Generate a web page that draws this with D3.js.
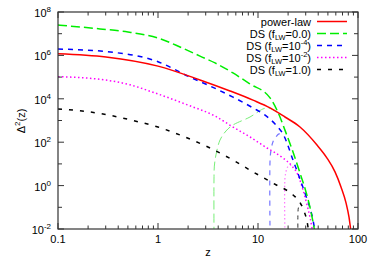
<!DOCTYPE html>
<html>
<head>
<meta charset="utf-8">
<script src="https://cdn.jsdelivr.net/npm/d3@7"></script>
<style>
  body { margin: 0; background: #fff; }
  svg { font-family: "Liberation Sans", Arial, sans-serif; }
</style>
</head>
<body>
<div id="chart"></div>
<script>
// redshift z and Delta^2(z)
const zPower = [0.1, 0.302, 1.0, 2.63, 5.25, 8.91, 13.2, 18.6, 26.3, 38.9, 49.0, 58.9, 67.6, 75.9, 81.3, 85.1];
const powerLaw = [1.2e6, 8.5e5, 3.2e5, 7.4e4, 2.3e4, 8.7e3, 3.8e3, 1.45e3, 500, 74, 18.6, 4.3, 0.87, 0.16, 0.035, 0.0072];

const zDS0 = [0.1, 0.263, 0.501, 1.0, 1.66, 2.63, 3.72, 5.62, 8.32, 13.2, 15.8, 18.6, 22.4, 26.3, 30.2, 33.1, 35.5, 37.2];
const ds0 = [2.5e7, 1.66e7, 1.2e7, 6.3e6, 2.45e6, 9.3e5, 4.5e5, 1.55e5, 4.8e4, 1.1e4, 2.45e3, 360, 35, 3.8, 0.51, 0.10, 0.021, 0.0063];
const zDS0low = [3.63, 3.63, 3.66, 3.8, 4.17, 4.79, 5.62, 8.32, 11.2, 12.6, 14.5, 15.8];
const ds0low = [0.005, 2.0, 7.9, 26, 126, 330, 620, 1.45e3, 3.4e3, 3.8e3, 3.0e3, 2.24e3];

const zDS4 = [0.1, 0.302, 1.0, 2.09, 3.31, 5.62, 8.91, 11.7, 14.8, 18.2, 22.4, 26.3, 30.2, 33.1, 35.5, 37.2];
const ds4 = [1.95e6, 1.5e6, 5.1e5, 1.0e5, 3.9e4, 1.2e4, 3.8e3, 1.8e3, 690, 195, 15, 2.0, 0.33, 0.093, 0.026, 0.0072];
const zDS4low = [13.2, 13.2, 13.5, 14.1, 15.1, 16.2, 17.8];
const ds4low = [0.005, 15, 44, 102, 174, 240, 214];

const zDS2 = [0.1, 0.295, 0.525, 0.933, 2.0, 3.72, 5.62, 8.32, 12.3, 17.8, 21.9, 25.1, 28.2, 30.9, 33.1, 34.7, 35.5];
const ds2 = [1.05e5, 7.4e4, 4.4e4, 1.86e4, 5.1e3, 1.6e3, 500, 174, 54, 18.6, 7.9, 3.1, 0.63, 0.13, 0.035, 0.011, 0.0059];
const zDS2low = [18.6, 18.6, 19.05, 19.5, 20.9, 22.4];
const ds2low = [0.005, 2.2, 4.3, 6.5, 8.9, 7.2];

const zDS1 = [0.1, 0.174, 0.316, 0.589, 1.0, 1.86, 3.16, 5.62, 8.91, 14.1, 22.4, 25.7, 28.8, 30.9, 32.4];
const ds1 = [3.4e3, 2.75e3, 1.8e3, 950, 500, 174, 60, 15, 4.3, 1.3, 0.37, 0.195, 0.068, 0.023, 0.0058];
const zDS1low = [25.1, 25.1, 25.4, 26.3, 27.5];
const ds1low = [0.005, 0.06, 0.10, 0.14, 0.12];

const xTicks = [0.1, 1, 10, 100];
const xTickLabels = ["0.1", "1", "10", "100"];
const yExponents = [-2, 0, 2, 4, 6, 8];

const W = 374, H = 262;
const plot = {left: 58, right: 358, top: 12, bottom: 229};

const svg = d3.select("#chart").append("svg")
    .attr("width", W)
    .attr("height", H);

const x = d3.scaleLog().domain([0.1, 100]).range([plot.left, plot.right]);
const y = d3.scaleLog().domain([1e-2, 1e8]).range([plot.bottom, plot.top]);

svg.append("clipPath").attr("id", "clip")
  .append("rect")
    .attr("x", plot.left).attr("y", plot.top)
    .attr("width", plot.right - plot.left)
    .attr("height", plot.bottom - plot.top);

const zip = (zs, vs) => zs.map((z, i) => [z, vs[i]]);

const series = [
  {name: "power-law", pts: zip(zPower, powerLaw), color: "#ff0000", dash: null, w: 1.5},
  {name: "ds0", pts: zip(zDS0, ds0), color: "#00ee00", dash: "9,4", w: 1.5},
  {name: "ds4", pts: zip(zDS4, ds4), color: "#0000ff", dash: "5,5", w: 1.5},
  {name: "ds2", pts: zip(zDS2, ds2), color: "#ff00ff", dash: "1.5,2.5", w: 1.5},
  {name: "ds1", pts: zip(zDS1, ds1), color: "#000000", dash: "4,7", w: 1.5},
  // lower branches, thinner and lighter
  {name: "ds0low", pts: zip(zDS0low, ds0low), color: "#77ee77", dash: "9,4", w: 1, low: true},
  {name: "ds4low", pts: zip(zDS4low, ds4low), color: "#7777ff", dash: "5,5", w: 1.2, low: true},
  {name: "ds2low", pts: zip(zDS2low, ds2low), color: "#ff77ff", dash: "1.5,2.5", w: 1.2, low: true},
  {name: "ds1low", pts: zip(zDS1low, ds1low), color: "#333333", dash: "4,4", w: 1, low: true}
];

const lineUpper = d3.line()
    .x(d => x(d[0]))
    .y(d => y(d[1]))
    .curve(d3.curveMonotoneX);

const lineLower = d3.line()
    .x(d => x(d[0]))
    .y(d => y(d[1]))
    .curve(d3.curveCatmullRom.alpha(0.5));

const lines = svg.append("g").attr("clip-path", "url(#clip)");
lines.selectAll("path")
  .data(series.slice().reverse())
  .enter().append("path")
    .attr("d", d => d.low ? lineLower(d.pts) : lineUpper(d.pts))
    .attr("fill", "none")
    .attr("stroke", d => d.color)
    .attr("stroke-width", d => d.w)
    .attr("stroke-dasharray", d => d.dash);

// frame and ticks
const axisColor = "#333";
svg.append("rect")
    .attr("x", plot.left).attr("y", plot.top)
    .attr("width", plot.right - plot.left)
    .attr("height", plot.bottom - plot.top)
    .attr("fill", "none")
    .attr("stroke", axisColor)
    .attr("stroke-width", 1.2);

const ticks = svg.append("g").attr("stroke", axisColor).attr("stroke-width", 1);

// x ticks (major + minor), bottom and top
const xMinor = [];
for (let dec = 0.1; dec < 100; dec *= 10) {
  for (let k = 2; k <= 9; k++) xMinor.push(dec * k);
}
xMinor.forEach(v => {
  ticks.append("line").attr("x1", x(v)).attr("x2", x(v)).attr("y1", plot.bottom).attr("y2", plot.bottom - 3.5);
  ticks.append("line").attr("x1", x(v)).attr("x2", x(v)).attr("y1", plot.top).attr("y2", plot.top + 3.5);
});
xTicks.forEach(v => {
  ticks.append("line").attr("x1", x(v)).attr("x2", x(v)).attr("y1", plot.bottom).attr("y2", plot.bottom - 6);
  ticks.append("line").attr("x1", x(v)).attr("x2", x(v)).attr("y1", plot.top).attr("y2", plot.top + 6);
});

// y ticks every decade, labelled every second one
for (let e = -2; e <= 8; e++) {
  const len = (e % 2 === 0) ? 6 : 4;
  ticks.append("line").attr("x1", plot.left).attr("x2", plot.left + len).attr("y1", y(Math.pow(10, e))).attr("y2", y(Math.pow(10, e)));
  ticks.append("line").attr("x1", plot.right).attr("x2", plot.right - len).attr("y1", y(Math.pow(10, e))).attr("y2", y(Math.pow(10, e)));
}

svg.append("g").selectAll("text")
  .data(xTicks)
  .enter().append("text")
    .attr("x", d => x(d))
    .attr("y", plot.bottom + 14)
    .attr("text-anchor", "middle")
    .attr("font-size", 11)
    .attr("fill", "#000")
    .text((d, i) => xTickLabels[i]);

const yLab = svg.append("g").selectAll("text")
  .data(yExponents)
  .enter().append("text")
    .attr("x", plot.left - 7)
    .attr("y", d => y(Math.pow(10, d)) + 5)
    .attr("text-anchor", "end")
    .attr("font-size", 11)
    .attr("fill", "#000");
yLab.append("tspan").text("10");
yLab.append("tspan")
    .attr("dy", -5)
    .attr("font-size", 8)
    .text(d => d);

// axis titles
svg.append("text")
    .attr("x", (plot.left + plot.right) / 2)
    .attr("y", 256)
    .attr("text-anchor", "middle")
    .attr("font-size", 11)
    .text("z");

const yt = svg.append("text")
    .attr("transform", "translate(25,121) rotate(-90)")
    .attr("text-anchor", "middle")
    .attr("font-size", 11);
yt.append("tspan").text("Δ");
yt.append("tspan").attr("dy", -5).attr("font-size", 8).text("2");
yt.append("tspan").attr("dy", 5).text("(z)");

// legend
const legendRows = [
  {s: series[0], parts: [["power-law", 0]]},
  {s: series[1], parts: [["DS (f", 0], ["LW", 1], ["=0.0)", 0]]},
  {s: series[2], parts: [["DS (f", 0], ["LW", 1], ["=10", 0], ["-4", 2], [")", 0]]},
  {s: series[3], parts: [["DS (f", 0], ["LW", 1], ["=10", 0], ["-2", 2], [")", 0]]},
  {s: series[4], parts: [["DS (f", 0], ["LW", 1], ["=1.0)", 0]]}
];

const legend = svg.append("g")
  .selectAll("g")
  .data(legendRows)
  .enter().append("g")
    .attr("transform", (d, i) => `translate(0, ${21.5 + i * 12})`);

legend.append("line")
    .attr("x1", 317).attr("x2", 347)
    .attr("y1", 0).attr("y2", 0)
    .attr("stroke", d => d.s.color)
    .attr("stroke-width", 1.5)
    .attr("stroke-dasharray", d => d.s.dash);

legend.each(function(d) {
  const t = d3.select(this).append("text")
      .attr("x", 311)
      .attr("y", 4)
      .attr("text-anchor", "end")
      .attr("font-size", 11);
  let level = 0;
  d.parts.forEach(p => {
    const target = p[1] === 1 ? 2.5 : (p[1] === 2 ? -4.5 : 0);
    t.append("tspan")
        .attr("dy", target - level)
        .attr("font-size", p[1] ? 7.5 : 11)
        .text(p[0]);
    level = target;
  });
});
</script>
</body>
</html>
